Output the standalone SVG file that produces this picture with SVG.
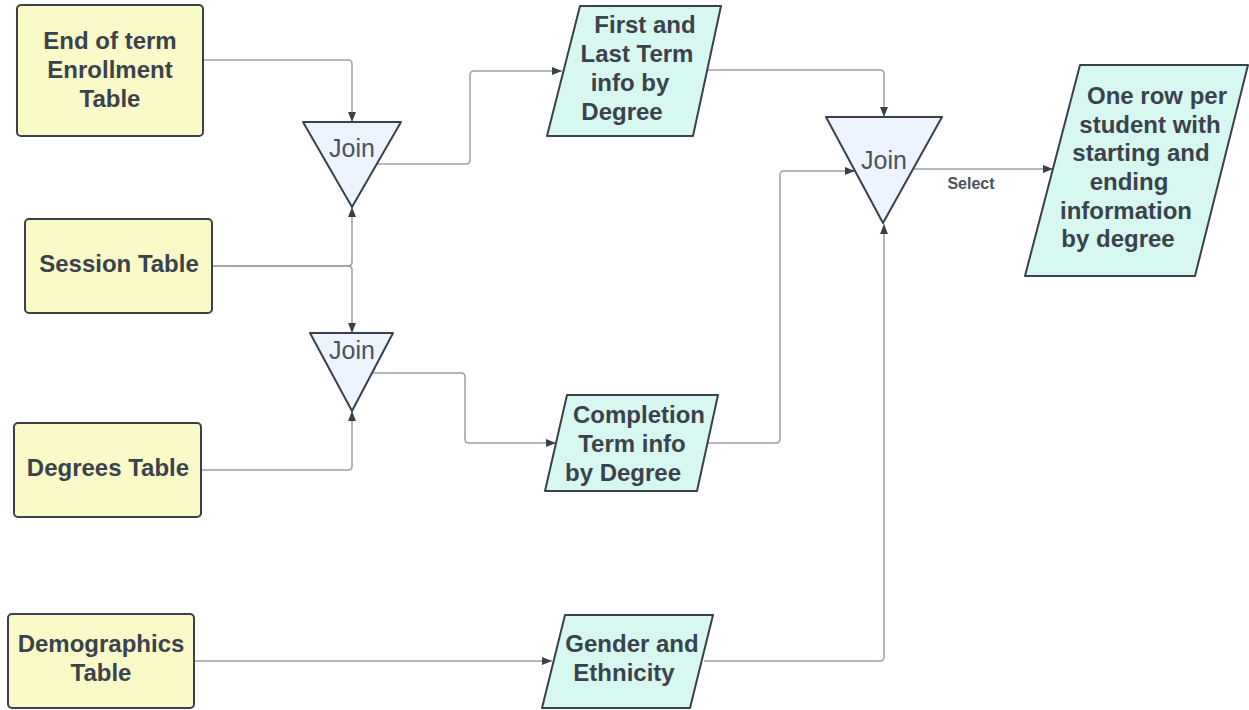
<svg xmlns="http://www.w3.org/2000/svg" width="1249" height="710" viewBox="0 0 1249 710">
<defs>
<marker id="arr" viewBox="0 0 10 10" refX="10" refY="5" markerWidth="10" markerHeight="10" markerUnits="userSpaceOnUse" orient="auto">
<path d="M0,1 L10,5 L0,9 Z" fill="#3a414a"/>
</marker>
<style>
.tbl{fill:#fafac9;stroke:#3a414a;stroke-width:2}
.out{fill:#d6f8f1;stroke:#3a414a;stroke-width:2;stroke-linejoin:round}
.join{fill:#edf4fe;stroke:#3a414a;stroke-width:2;stroke-linejoin:round}
.t{font-family:"Liberation Sans",Arial,sans-serif;font-size:24px;font-weight:bold;fill:#3b424c;text-anchor:middle}
.j{font-family:"Liberation Sans",Arial,sans-serif;font-size:25px;fill:#4b525c;text-anchor:middle}
.lbl{font-family:"Liberation Sans",Arial,sans-serif;font-size:16px;font-weight:bold;fill:#4b525c;text-anchor:middle}
.c{fill:none;stroke:#9ba1a8;stroke-width:1.5;marker-end:url(#arr)}
</style>
</defs>
<rect width="1249" height="710" fill="#ffffff"/>
<g id="connectors">
<path class="c" d="M203,60 H348 Q352,60 352,64 V122"/>
<path class="c" d="M212,266 H348 Q352,266 352,262 V207"/>
<path class="c" d="M212,266 H348 Q352,266 352,270 V333"/>
<path class="c" d="M201,470 H348 Q352,470 352,466 V411"/>
<path class="c" d="M377,164 H466 Q470,164 470,160 V75 Q470,71 474,71 H562"/>
<path class="c" d="M707,70 H880 Q884,70 884,74 V117"/>
<path class="c" d="M372,373 H461 Q465,373 465,377 V439 Q465,443 469,443 H556"/>
<path class="c" d="M707,443 H776 Q780,443 780,439 V175 Q780,171 784,171 H855"/>
<path class="c" d="M194,661 H552"/>
<path class="c" d="M704,661 H880 Q884,661 884,657 V224"/>
<path class="c" d="M913,169 H1053"/>
<text class="lbl" x="971" y="189">Select</text>
</g>
<g id="end-of-term">
<rect class="tbl" x="17" y="5" width="186" height="131" rx="4"/>
<text class="t" x="110" y="48.5">End of term</text>
<text class="t" x="110" y="77.5">Enrollment</text>
<text class="t" x="110" y="106.5">Table</text>
</g>
<g id="session">
<rect class="tbl" x="25" y="219" width="187" height="94" rx="4"/>
<text class="t" x="119" y="272">Session Table</text>
</g>
<g id="degrees">
<rect class="tbl" x="14" y="423" width="187" height="94" rx="4"/>
<text class="t" x="108" y="476">Degrees Table</text>
</g>
<g id="demographics">
<rect class="tbl" x="8" y="614" width="186" height="94" rx="4"/>
<text class="t" x="101" y="652">Demographics</text>
<text class="t" x="101" y="681">Table</text>
</g>
<g id="join1">
<polygon class="join" points="303,122 401,122 352,207"/>
<text class="j" x="352" y="157">Join</text>
</g>
<g id="join2">
<polygon class="join" points="310,333 393,333 352,411"/>
<text class="j" x="352" y="359">Join</text>
</g>
<g id="join3">
<polygon class="join" points="826,117 942,117 883,223"/>
<text class="j" x="884" y="169">Join</text>
</g>
<g id="first-last">
<polygon class="out" points="580,6 721,6 693,136 547,136"/>
<text class="t" x="645" y="33">First and</text>
<text class="t" x="637" y="62">Last Term</text>
<text class="t" x="630" y="91">info by</text>
<text class="t" x="622" y="120">Degree</text>
</g>
<g id="completion">
<polygon class="out" points="567,395 718,395 697,491 545,491"/>
<text class="t" x="639" y="423">Completion</text>
<text class="t" x="632" y="452">Term info</text>
<text class="t" x="623" y="481">by Degree</text>
</g>
<g id="gender">
<polygon class="out" points="565,615 713,615 690,708 542,708"/>
<text class="t" x="632" y="652">Gender and</text>
<text class="t" x="624" y="681">Ethnicity</text>
</g>
<g id="final">
<polygon class="out" points="1080,65 1248,65 1195,276 1025,276"/>
<text class="t" x="1157" y="104">One row per</text>
<text class="t" x="1150" y="133">student with</text>
<text class="t" x="1141" y="161">starting and</text>
<text class="t" x="1129" y="190">ending</text>
<text class="t" x="1126" y="219">information</text>
<text class="t" x="1118" y="247">by degree</text>
</g>
</svg>
